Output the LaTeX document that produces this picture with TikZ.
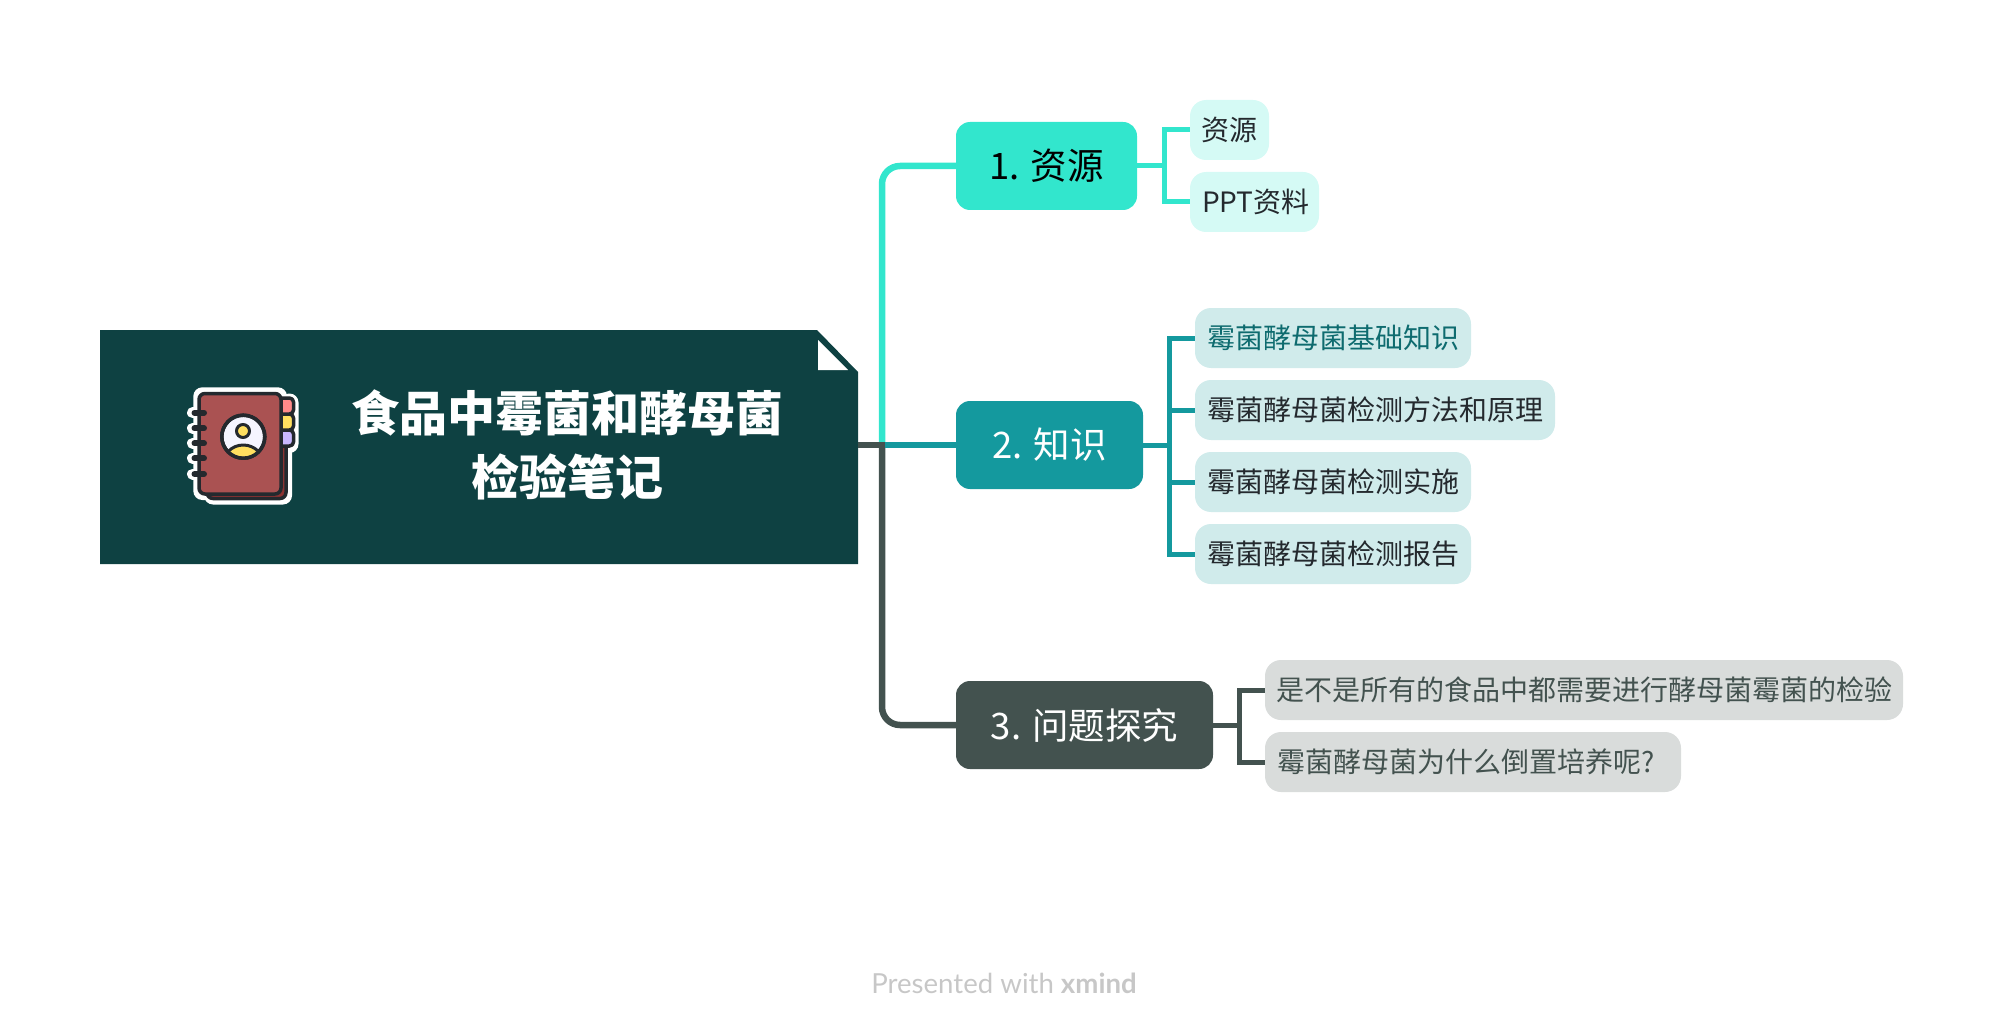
\documentclass[tikz,border=0pt]{standalone}
\usepackage{fontspec}
\setmainfont{Noto Sans CJK SC}
\newfontfamily\footfont{Lato}
\definecolor{cmain}{HTML}{0E4142}
\definecolor{cA}{HTML}{32E6CD}
\definecolor{cB}{HTML}{14999E}
\definecolor{cC}{HTML}{43524F}
\definecolor{sA}{HTML}{D5FAF5}
\definecolor{sB}{HTML}{D0EBEB}
\definecolor{sC}{HTML}{D9DCDB}
\definecolor{ink}{HTML}{24292E}
\definecolor{cover}{HTML}{AA5252}
\definecolor{backc}{HTML}{8C3232}
\definecolor{tabp}{HTML}{FF8A8A}
\definecolor{taby}{HTML}{FFDF60}
\definecolor{tabv}{HTML}{C9B8FF}
\tikzset{
  x=1pt,y=-1pt,
  topic/.style={rounded corners=14pt,inner sep=0pt,minimum height=88pt,font=\fontsize{36.5}{42}\selectfont},
  sub/.style={rounded corners=16pt,inner sep=0pt,minimum height=60pt,font=\fontsize{28}{34}\selectfont},
  lnk/.style={line width=6.5pt,rounded corners=18pt},
  sl/.style={line width=5pt},
}
\begin{document}
\begin{tikzpicture}
\useasboundingbox (0,0) rectangle (2004,1032);
% main topic
\fill[cmain] (100,330) -- (817,330) -- (858,372) -- (858,564) -- (100,564) -- cycle;
\fill[white] (818,340) -- (818,370) -- (848,370) -- cycle;
\node[inner sep=0pt,minimum width=0pt] (root) at (858,445) {};
\coordinate (jn) at (882,448);
\coordinate (jm) at (885,445);
\node[text=white,align=center,font=\fontsize{48}{64}\selectfont\bfseries] (title) at (567,445) {食品中霉菌和酵母菌\\检验笔记};
% topics
\node[topic,fill=cA,text=black,minimum width=181pt] (t1) at (1046.5,166) {1. 资源};
\node[topic,fill=cB,text=white,minimum width=187pt] (t2) at (1049.5,445) {2. 知识};
\node[topic,fill=cC,text=white,minimum width=257pt] (t3) at (1084.5,725) {3. 问题探究};
% subtopics
\node[sub,fill=sA,text=ink,minimum width=79pt] (a1) at (1229.5,130) {资源};
\node[sub,fill=sA,text=ink,minimum width=129pt] (a2) at (1254.5,202) {\makebox[105pt][l]{PPT资料}};
\node[sub,fill=sB,text=cB!70!black,minimum width=276pt] (b1) at (1333,338) {霉菌酵母菌基础知识};
\node[sub,fill=sB,text=ink,minimum width=360pt] (b2) at (1375,410) {霉菌酵母菌检测方法和原理};
\node[sub,fill=sB,text=ink,minimum width=276pt] (b3) at (1333,482) {霉菌酵母菌检测实施};
\node[sub,fill=sB,text=ink,minimum width=276pt] (b4) at (1333,554) {霉菌酵母菌检测报告};
\node[sub,fill=sC,text=cC,minimum width=638pt] (c1) at (1584,690) {是不是所有的食品中都需要进行酵母菌霉菌的检验};
\node[sub,fill=sC,text=cC,minimum width=416pt] (c2) at (1473,762) {\makebox[392pt][l]{霉菌酵母菌为什么倒置培养呢?}};
% trunk connectors
\draw[lnk,cA] (jn) -- (882,0 |- t1.west) -- (t1.west);
\draw[lnk,cC] (882,442) -- (882,0 |- t3.west) -- (t3.west);
\draw[line width=6.5pt,cB] (jm) -- (t2.west);
\draw[line width=6.5pt,cC] (root.east) -- (jm);
% branch connectors
\foreach \s in {a1,a2}{\draw[sl,cA] (t1.east) -- (1164,166) -- (1164,0 |- \s.west) -- (\s.west);}
\foreach \s in {b1,b2,b3,b4}{\draw[sl,cB] (t2.east) -- (1169,445) -- (1169,0 |- \s.west) -- (\s.west);}
\foreach \s in {c1,c2}{\draw[sl,cC] (t3.east) -- (1239,725) -- (1239,0 |- \s.west) -- (\s.west);}
% icon: white sticker outline
\begin{scope}[line join=round,line cap=round]
 \fill[white,rounded corners=9pt] (193.3,387.3) rectangle (287,500);
 \fill[white,rounded corners=9pt] (204,400) rectangle (292,504.5);
 \fill[white,rounded corners=9pt] (280,393.5) rectangle (298.5,453);
 \foreach \y in {412.7,428.3,443.3,458.3,474}{\draw[white,line width=11pt] (192.5,\y) -- (206,\y);}
 % back cover
 \draw[ink,line width=3.5pt,fill=backc,rounded corners=6pt] (207,405) -- (207,498.5) -- (286,498.5) -- (286,405) -- cycle;
 % tabs
 \draw[ink,line width=3.5pt,fill=tabv,rounded corners=4pt] (278,430) rectangle (293.5,446);
 \draw[ink,line width=3.5pt,fill=taby,rounded corners=4pt] (278,414) rectangle (293.5,430);
 \draw[ink,line width=3.5pt,fill=tabp,rounded corners=4pt] (278,398) rectangle (293.5,414);
 % cover
 \draw[ink,line width=3.5pt,fill=cover,rounded corners=6pt] (199,393.5) rectangle (281,494);
 % rings
 \foreach \y in {412.7,428.3,443.3,458.3,474}{\draw[ink,line width=6pt] (194.5,\y) -- (204,\y);}
 % avatar
 \draw[ink,line width=3.5pt,fill=white!96!blue] (243.3,436.7) circle (21.5);
 \begin{scope}
  \clip (243.3,436.7) circle (20);
  \draw[ink,line width=3pt,fill=taby] (243.3,466) circle (21);
 \end{scope}
 \draw[ink,line width=3pt,fill=taby] (243,431) circle (6.5);
 \draw[ink,line width=3.5pt] (243.3,436.7) circle (21.5);
\end{scope}
% footer
\node[inner sep=0pt,text=black!22,font=\footfont\fontsize{27.6}{32}\selectfont] (foot) at (1004,983) {Presented with \textbf{xmind}};
\end{tikzpicture}
\end{document}
